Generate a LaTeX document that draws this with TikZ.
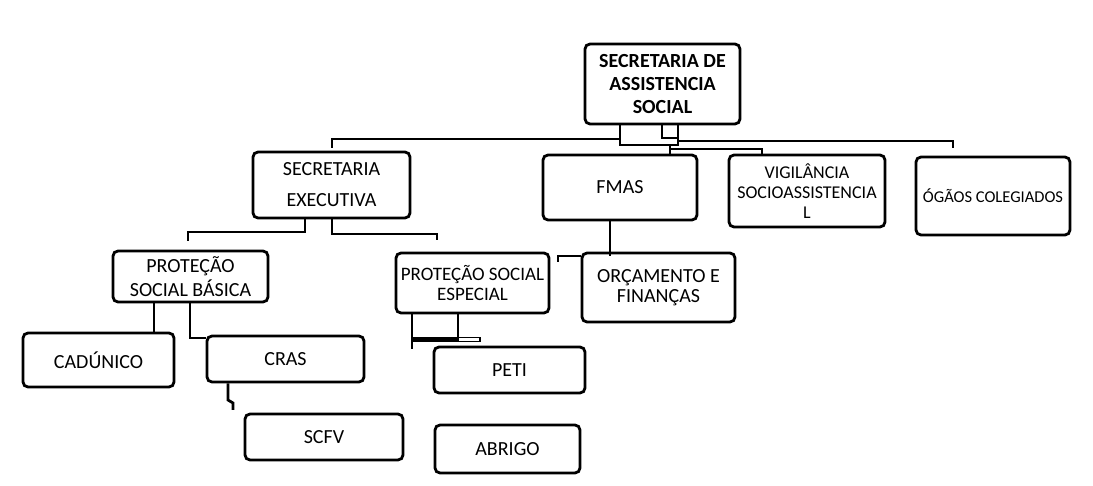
\documentclass[tikz,border=0pt]{standalone}
\usepackage{fontspec}
\setmainfont{Carlito}
\begin{document}
\begin{tikzpicture}[x=1pt,y=-1pt,
  box/.style={draw=black,line width=2.8pt,rounded corners=5pt,inner sep=0pt,align=center,
    font=\fontsize{20}{22}\selectfont},
  conn/.style={draw=black,line width=2.8pt}]
\useasboundingbox (0,0) rectangle (1093,486);
\node[box,font=\bfseries\fontsize{20}{23}\selectfont,minimum width=155pt,minimum height=80pt] (main) at (662.5,84) {SECRETARIA DE\\ASSISTENCIA\\SOCIAL};
\node[box,font=\fontsize{20}{31}\selectfont,minimum width=157pt,minimum height=66pt] (se) at (331.5,185) {SECRETARIA\\EXECUTIVA};
\node[box,minimum width=154pt,minimum height=65pt] (fmas) at (620,187.5) {FMAS};
\node[box,font=\fontsize{18}{20}\selectfont,minimum width=156pt,minimum height=72pt] (vig) at (807,191) {VIGIL\^ANCIA\\SOCIOASSISTENCIA\\L};
\node[box,font=\fontsize{16.5}{19}\selectfont,minimum width=154pt,minimum height=78pt] (og) at (993,196) {ÓGÃOS COLEGIADOS};
\node[box,font=\fontsize{20}{24}\selectfont,minimum width=155pt,minimum height=51pt] (psb) at (190.5,276.5) {PROTEÇÃO\\SOCIAL BÁSICA};
\node[box,font=\fontsize{19}{20}\selectfont,minimum width=153pt,minimum height=60pt] (pse) at (472.5,283) {PROTEÇÃO SOCIAL\\ESPECIAL};
\node[box,font=\fontsize{20}{20}\selectfont,minimum width=153pt,minimum height=69pt] (orc) at (658.5,287.5) {ORÇAMENTO E\\FINANÇAS};
\node[box,minimum width=151pt,minimum height=54pt] (cad) at (98.5,360) {CADÚNICO};
\node[box,minimum width=157pt,minimum height=46pt] (cras) at (285.5,359) {CRAS};
\node[box,minimum width=151pt,minimum height=46pt] (peti) at (509.5,370) {PETI};
\node[box,minimum width=158pt,minimum height=46pt] (scfv) at (324,437) {SCFV};
\node[box,minimum width=145pt,minimum height=48pt] (abrigo) at (507.5,449) {ABRIGO};
% top connectors
\draw[conn] (620,0 |- main.south) -- (620,145) -- (678,145) -- (678,0 |- main.south);
\draw[conn] (662,0 |- main.south) -- (662,138) -- (678,138);
\draw[conn] (332,148) -- (332,139) -- (620,139);
\draw[conn] (678,141) -- (953,141) -- (953,148);
\draw[conn] (670,145) -- (670,0 |- fmas.north);
\draw[conn] (670,149) -- (762,149) -- (762,0 |- vig.north);
% SE children
\draw[conn] (305,0 |- se.south) -- (305,232) -- (188,232) -- (188,241);
\draw[conn] (332,0 |- se.south) -- (332,234) -- (437,234) -- (437,240);
% PSB children
\draw[conn] (154,0 |- psb.south) -- (154,0 |- cad.north);
\draw[conn] (190,0 |- psb.south) -- (190,338) -- (cras.west |- 0,338);
% CRAS to SCFV
\draw[conn] (228,0 |- cras.south) -- (228,400) -- (233,403) -- (233,410);
% PSE children
\draw[conn] (412,0 |- pse.south) -- (412,349);
\draw[conn] (458,0 |- pse.south) -- (458,340);
\draw[draw=black,line width=5.5pt] (411,339.5) -- (458,339.5);
\draw[draw=black,line width=1.4pt] (458,337.5) rectangle (480,341.5);
% FMAS to ORC
\draw[conn] (610,0 |- fmas.south) -- (610,256);
\draw[conn] (558,262) -- (558,256) -- (orc.west |- 0,256);
\end{tikzpicture}
\end{document}
